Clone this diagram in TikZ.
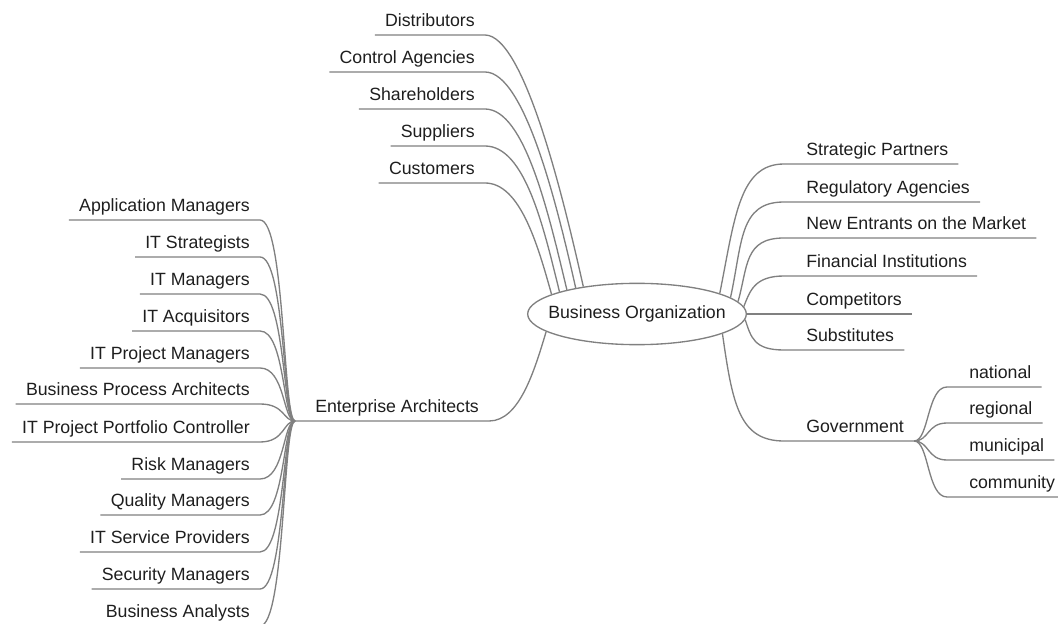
\documentclass[tikz,border=0pt]{standalone}
\usepackage{fontspec}
\setmainfont{Liberation Sans}
\usetikzlibrary{shapes.geometric,calc}
\definecolor{linegray}{RGB}{128,128,128}
\definecolor{textgray}{RGB}{30,30,30}

\begin{document}
\begin{tikzpicture}[
    x=0.75pt, y=-0.75pt,
    every node/.style={font=\fontsize{13.3}{15}\selectfont, text=textgray},
    hub/.style={draw=linegray, line width=1pt, ellipse, minimum width=164pt,
                minimum height=46pt, inner xsep=-10pt, inner ysep=0pt},
    leaf/.style={inner xsep=7.5pt, inner ysep=3pt, text depth=3pt},
    branch/.style={draw=linegray, line width=1pt}
]
\useasboundingbox (0,0) rectangle (1058,624);

% Centre
\node[hub] (org) at (637,314) {Business Organization};

% Top-left branches
\node[leaf, anchor=south east] (dist) at (485,35) {Distributors};
\draw[branch] (dist.south west) -- (dist.south east) .. controls +(40,0) and +(-18,-80) .. (org.153);
\node[leaf, anchor=south east] (ctrl) at (485,72) {Control Agencies};
\draw[branch] (ctrl.south west) -- (ctrl.south east) .. controls +(40,0) and +(-18,-80) .. (org.157);
\node[leaf, anchor=south east] (share) at (485,109) {Shareholders};
\draw[branch] (share.south west) -- (share.south east) .. controls +(40,0) and +(-18,-75) .. (org.161);
\node[leaf, anchor=south east] (supp) at (485,146) {Suppliers};
\draw[branch] (supp.south west) -- (supp.south east) .. controls +(40,0) and +(-16,-65) .. (org.164);
\node[leaf, anchor=south east] (cust) at (485,183) {Customers};
\draw[branch] (cust.south west) -- (cust.south east) .. controls +(35,0) and +(-14,-50) .. (org.167);

% Right branches
\node[leaf, anchor=south west] (strat) at (796,164) {Strategic Partners};
\draw[branch] (org.14) .. controls +(15,-75) and +(-45,0) .. ($(strat.south west)+(-12,0)$) -- (strat.south east);
\node[leaf, anchor=south west] (regul) at (796,202) {Regulatory Agencies};
\draw[branch] (org.10) .. controls +(12,-55) and +(-45,0) .. ($(regul.south west)+(-12,0)$) -- (regul.south east);
\node[leaf, anchor=south west] (newent) at (796,238) {New Entrants on the Market};
\draw[branch] (org.7) .. controls +(10,-35) and +(-40,0) .. ($(newent.south west)+(-12,0)$) -- (newent.south east);
\node[leaf, anchor=south west] (finan) at (796,276) {Financial Institutions};
\draw[branch] (org.4) .. controls +(6,-15) and +(-30,0) .. ($(finan.south west)+(-12,0)$) -- (finan.south east);
\node[leaf, anchor=south west] (comp) at (796,314) {Competitors};
\draw[branch] (org.east) -- (comp.south east);
\node[leaf, anchor=south west] (subst) at (796,350) {Substitutes};
\draw[branch] (org.-3) .. controls +(6,18) and +(-30,0) .. ($(subst.south west)+(-12,0)$) -- (subst.south east);

% Government
\node[leaf, anchor=south west] (gov) at (796,441) {Government};
\draw[branch] (org.-13) .. controls +(10,70) and +(-45,0) .. ($(gov.south west)+(-12,0)$) -- (gov.south east);
\node[leaf, anchor=south west] (natl) at (959,387) {national};
\draw[branch] (gov.south east) .. controls +(15,0) and +(-20,0) .. ($(natl.south west)+(-12,0)$) -- (natl.south east);
\node[leaf, anchor=south west] (regio) at (959,423) {regional};
\draw[branch] (gov.south east) .. controls +(15,0) and +(-20,0) .. ($(regio.south west)+(-12,0)$) -- (regio.south east);
\node[leaf, anchor=south west] (munic) at (959,460) {municipal};
\draw[branch] (gov.south east) .. controls +(15,0) and +(-20,0) .. ($(munic.south west)+(-12,0)$) -- (munic.south east);
\node[leaf, anchor=south west] (commu) at (959,497) {community};
\draw[branch] (gov.south east) .. controls +(15,0) and +(-20,0) .. ($(commu.south west)+(-12,0)$) -- (commu.south east);

% Enterprise Architects
\node[leaf, anchor=south west] (ent) at (305,421) {Enterprise Architects};
\draw[branch] ($(ent.south west)+(-10,0)$) -- (ent.south east) .. controls +(30,0) and +(-12,40) .. (org.191);
\coordinate (entfork) at ($(ent.south west)+(-10,0)$);

\node[leaf, anchor=south east] (appm) at (260,220) {Application Managers};
\draw[branch] (entfork) .. controls +(-12,0) and +(25,0) .. (appm.south east) -- (appm.south west);
\node[leaf, anchor=south east] (itstr) at (260,257) {IT Strategists};
\draw[branch] (entfork) .. controls +(-12,0) and +(25,0) .. (itstr.south east) -- (itstr.south west);
\node[leaf, anchor=south east] (itman) at (260,294) {IT Managers};
\draw[branch] (entfork) .. controls +(-12,0) and +(25,0) .. (itman.south east) -- (itman.south west);
\node[leaf, anchor=south east] (itacq) at (260,331) {IT Acquisitors};
\draw[branch] (entfork) .. controls +(-12,0) and +(25,0) .. (itacq.south east) -- (itacq.south west);
\node[leaf, anchor=south east] (itpm) at (260,368) {IT Project Managers};
\draw[branch] (entfork) .. controls +(-12,0) and +(25,0) .. (itpm.south east) -- (itpm.south west);
\node[leaf, anchor=south east] (bpa) at (260,404) {Business Process Architects};
\draw[branch] (entfork) .. controls +(-12,0) and +(25,0) .. (bpa.south east) -- (bpa.south west);
\node[leaf, anchor=south east] (ppc) at (260,442) {IT Project Portfolio Controller};
\draw[branch] (entfork) .. controls +(-12,0) and +(25,0) .. (ppc.south east) -- (ppc.south west);
\node[leaf, anchor=south east] (risk) at (260,479) {Risk Managers};
\draw[branch] (entfork) .. controls +(-12,0) and +(25,0) .. (risk.south east) -- (risk.south west);
\node[leaf, anchor=south east] (qual) at (260,515) {Quality Managers};
\draw[branch] (entfork) .. controls +(-12,0) and +(25,0) .. (qual.south east) -- (qual.south west);
\node[leaf, anchor=south east] (itsp) at (260,552) {IT Service Providers};
\draw[branch] (entfork) .. controls +(-12,0) and +(25,0) .. (itsp.south east) -- (itsp.south west);
\node[leaf, anchor=south east] (secm) at (260,589) {Security Managers};
\draw[branch] (entfork) .. controls +(-12,0) and +(25,0) .. (secm.south east) -- (secm.south west);
\node[leaf, anchor=south east] (bana) at (260,626) {Business Analysts};
\draw[branch] (entfork) .. controls +(-12,0) and +(25,0) .. (bana.south east) -- (bana.south west);

\end{tikzpicture}
\end{document}
